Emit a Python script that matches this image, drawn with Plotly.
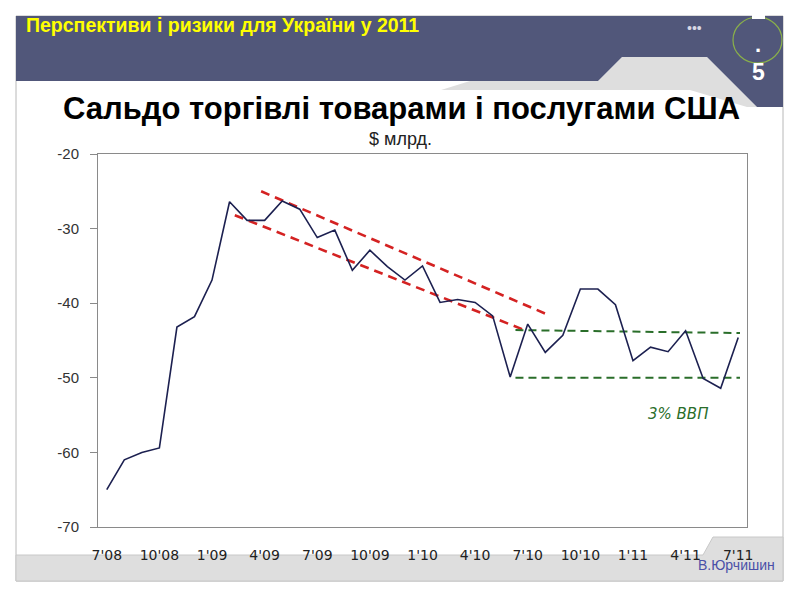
import plotly.graph_objects as go

# ---- data ----
months = ["7'08", "8'08", "9'08", "10'08", "11'08", "12'08",
          "1'09", "2'09", "3'09", "4'09", "5'09", "6'09",
          "7'09", "8'09", "9'09", "10'09", "11'09", "12'09",
          "1'10", "2'10", "3'10", "4'10", "5'10", "6'10",
          "7'10", "8'10", "9'10", "10'10", "11'10", "12'10",
          "1'11", "2'11", "3'11", "4'11", "5'11", "6'11", "7'11"]
balance = [-65.0, -61.0, -60.0, -59.4, -43.2, -41.8,
           -36.9, -26.4, -28.9, -28.9, -26.3, -27.4,
           -31.2, -30.2, -35.6, -32.9, -35.1, -36.9,
           -35.0, -39.9, -39.5, -39.9, -41.7, -49.9,
           -42.8, -46.6, -44.3, -38.1, -38.1, -40.2,
           -47.7, -45.9, -46.5, -43.7, -50.1, -51.4, -44.6]
tick_labels = ["7'08", "10'08", "1'09", "4'09", "7'09", "10'09", "1'10",
               "4'10", "7'10", "10'10", "1'11", "4'11", "7'11"]
y_ticks = [-70, -60, -50, -40, -30, -20]
y_tick_labels = ["-70", "-60", "-50", "-40", "-30", "-20"]

# hand-drawn trend channels (x in month index, y in $ bn)
red_upper_x = [8.8, 25.2]
red_upper_y = [-25.0, -41.6]
red_lower_x = [7.3, 23.7]
red_lower_y = [-28.2, -43.5]
green_upper_x = [23.3, 36.1]
green_upper_y = [-43.6, -44.0]
green_lower_x = [23.3, 36.1]
green_lower_y = [-50.0, -50.0]

# ---- layout geometry (screen pixels; page body has an 8px margin) ----
OFF = 8
W, H = 784, 584
SL, SR, ST, SB = 98, 747, 154, 527          # plot area on screen
L, R, T, B = SL - OFF, SR - OFF, ST - OFF, SB - OFF


def px(x):
    return (x - SL) / (SR - SL)


def py(y):
    return (SB - y) / (SB - ST)


def path(points):
    return "M " + " L ".join(f"{px(a):.5f},{py(b):.5f}" for a, b in points) + " Z"


xi = list(range(len(months)))
tickvals = [i for i, m in enumerate(months) if m in tick_labels]

fig = go.Figure()

red_line = dict(color="#d42222", width=2.6, dash="9px,6px")
green_line = dict(color="#2a6e2a", width=2, dash="8px,5px")
fig.add_trace(go.Scatter(x=red_upper_x, y=red_upper_y, mode="lines", line=red_line, hoverinfo="skip"))
fig.add_trace(go.Scatter(x=red_lower_x, y=red_lower_y, mode="lines", line=red_line, hoverinfo="skip"))
fig.add_trace(go.Scatter(x=green_upper_x, y=green_upper_y, mode="lines", line=green_line, hoverinfo="skip"))
fig.add_trace(go.Scatter(x=green_lower_x, y=green_lower_y, mode="lines", line=green_line, hoverinfo="skip"))
fig.add_trace(go.Scatter(x=xi, y=balance, mode="lines",
                         line=dict(color="#1c2050", width=1.6),
                         customdata=months,
                         hovertemplate="%{customdata}: %{y}<extra></extra>"))

band = "#51577a"
grey = "#dedede"
shapes = [
    dict(type="rect", xref="paper", yref="paper", x0=px(16), x1=px(783), y0=py(581), y1=py(16),
         line=dict(color="#b8b8b8", width=1), fillcolor="rgba(0,0,0,0)", layer="below"),
    dict(type="path", xref="paper", yref="paper",
         path=path([(16, 555), (703, 555), (713, 537), (783, 537), (783, 581), (16, 581)]),
         fillcolor=grey, line=dict(color="#c8c8c8", width=1), layer="below"),
    dict(type="path", xref="paper", yref="paper",
         path=path([(470, 81), (598, 81), (622, 57), (707, 57), (757, 107), (747, 107), (690, 90), (441, 90)]),
         fillcolor=grey, line=dict(width=0), layer="below"),
    dict(type="path", xref="paper", yref="paper",
         path=path([(16, 16), (783, 16), (783, 107), (757, 107), (707, 57), (622, 57), (598, 81), (16, 81)]),
         fillcolor=band, line=dict(width=0), layer="below"),
    dict(type="circle", xref="paper", yref="paper", x0=px(733), x1=px(782), y0=py(63), y1=py(17),
         line=dict(color="#8ab04a", width=1.2), fillcolor="rgba(0,0,0,0)", layer="above"),
    dict(type="rect", xref="paper", yref="paper", x0=px(752), x1=px(765), y0=py(19), y1=py(15),
         line=dict(width=0), fillcolor="white", layer="above"),
]

annotations = [
    dict(text="<b>Перспективи і ризики для України у 2011</b>", x=px(24), y=py(25),
         xref="paper", yref="paper", xanchor="left", yanchor="middle", showarrow=False,
         font=dict(family="Liberation Sans, Arial", size=19.5, color="#ffff00")),
    dict(text="•••", x=px(694), y=py(28), xref="paper", yref="paper", xanchor="center", yanchor="middle",
         showarrow=False, font=dict(family="Liberation Sans, Arial", size=14, color="#d8d8e4")),
    dict(text="<b>.</b>", x=px(758), y=py(44), xref="paper", yref="paper", xanchor="center", yanchor="middle",
         showarrow=False, font=dict(family="Liberation Sans, Arial", size=22, color="white")),
    dict(text="<b>5</b>", x=px(758), y=py(72), xref="paper", yref="paper", xanchor="center", yanchor="middle",
         showarrow=False, font=dict(family="Liberation Sans, Arial", size=23, color="white")),
    dict(text="<b>Сальдо торгівлі товарами і послугами США</b>", x=px(401), y=py(109),
         xref="paper", yref="paper", xanchor="center", yanchor="middle", showarrow=False,
         font=dict(family="Liberation Sans, Arial", size=31, color="black")),
    dict(text="$ млрд.", x=px(400), y=py(139), xref="paper", yref="paper", xanchor="center",
         yanchor="middle", showarrow=False,
         font=dict(family="Liberation Sans, Arial", size=18, color="#222222")),
    dict(text="<i>3% ВВП</i>", x=px(678), y=py(414), xref="paper", yref="paper", xanchor="center",
         yanchor="middle", showarrow=False,
         font=dict(family="DejaVu Sans", size=15, color="#2a6e2a")),
    dict(text="В.Юрчишин", x=px(736), y=py(565), xref="paper", yref="paper", xanchor="center",
         yanchor="middle", showarrow=False,
         font=dict(family="Liberation Sans, Arial", size=14, color="#4a50a8")),
]

fig.update_layout(
    width=W, height=H,
    margin=dict(l=L, r=W - R, t=T, b=H - B, pad=0),
    paper_bgcolor="white", plot_bgcolor="white",
    showlegend=False,
    shapes=shapes, annotations=annotations,
    xaxis=dict(range=[-0.5, 36.5], tickmode="array", tickvals=tickvals, ticktext=tick_labels,
               showgrid=False, zeroline=False, showline=True, linecolor="#8a8a8a", linewidth=1,
               mirror=True, ticks="", ticklabelstandoff=15,
               tickfont=dict(family="DejaVu Sans", size=14, color="#222222")),
    yaxis=dict(range=[-70, -20], tickmode="array", tickvals=y_ticks, ticktext=y_tick_labels,
               showgrid=False, zeroline=False, showline=True,
               linecolor="#8a8a8a", linewidth=1, mirror=True, ticks="outside", ticklen=7,
               tickcolor="#8a8a8a", ticklabelstandoff=8,
               tickfont=dict(family="Liberation Sans, Arial", size=15, color="#333333")),
)

fig.write_html("out.html")
